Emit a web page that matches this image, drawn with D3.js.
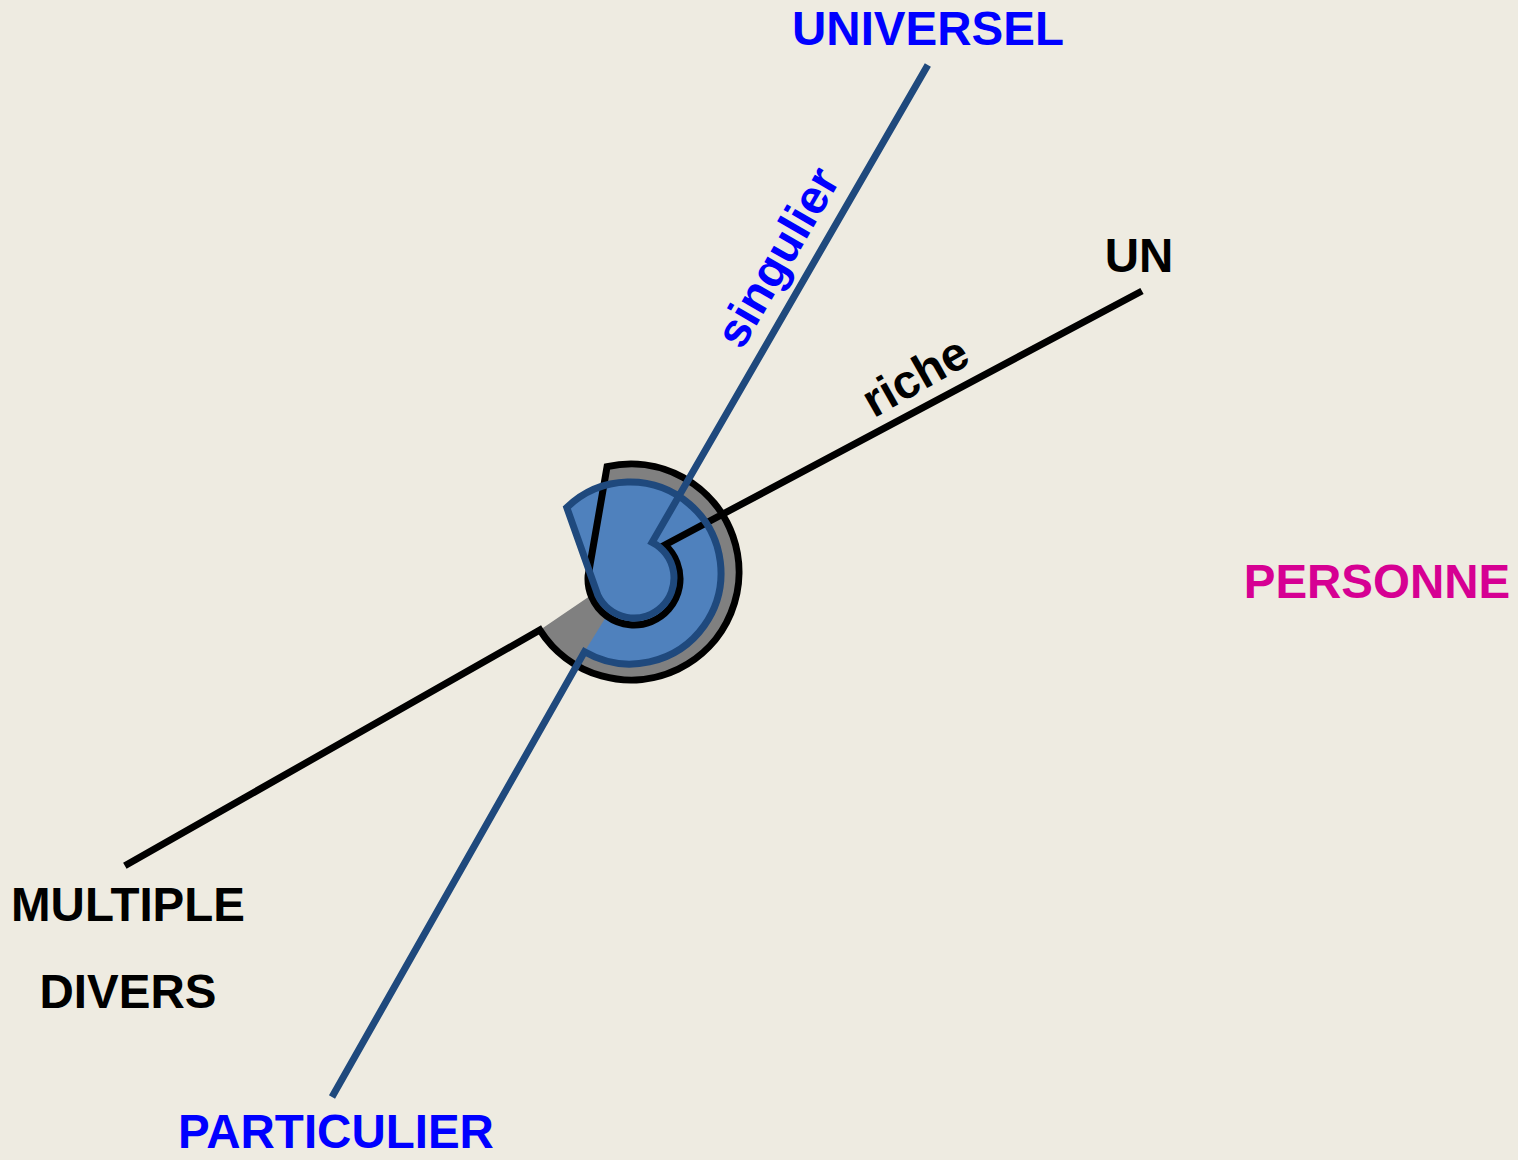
<!DOCTYPE html>
<html>
<head>
<meta charset="utf-8">
<script src="https://cdn.jsdelivr.net/npm/d3@7"></script>
<style>
  html, body { margin: 0; padding: 0; background: #eeebe1; }
  svg { display: block; }
  text { font-family: "Liberation Sans", Arial, sans-serif; font-weight: bold; }
</style>
</head>
<body>
<div id="chart"></div>
<script>
// two axes crossing at the centre, angle in degrees (counter-clockwise from east)
var axisNames = ["un-multiple", "universel-particulier"];
var axisAngles = [29.47, 60];
var axisReach = [[587.5, 580.8], [594.7, 597]]; // toward angle, toward angle+180

// spiral arcs: [startAngle, endAngle, radius]
var blackOuter = [212.5, 462.8, 108];
var blackInner = [176, 407.8, 46];
var blueOuter = [240, 494, 91];
var blueInner = [205, 423, 40];

// words on the poles
var poleLabels = ["UNIVERSEL", "UN", "PERSONNE", "MULTIPLE", "DIVERS", "PARTICULIER"];
var poleColors = ["#0000ff", "#000000", "#d60093", "#000000", "#000000", "#0000ff"];
var axisWords = ["singulier", "riche"];
var axisWordColors = ["#0000ff", "#000000"];

var width = 1518, height = 1160;
var centre = {x: 630.5, y: 580};

var svg = d3.select("#chart").append("svg")
    .attr("width", width)
    .attr("height", height);

var rad = function(d) { return d * Math.PI / 180; };
function pt(c, r, a) {
    return [c.x + r * Math.cos(rad(a)), c.y - r * Math.sin(rad(a))];
}
// arc going counter-clockwise on screen (increasing maths angle)
function addArc(p, c, a) {
    p.arc(c.x, c.y, a[2], -rad(a[0]), -rad(a[1]), true);
}

// outline: axis end -> outer arc -> inner arc -> other axis end
// fill: only the arcs, closed straight back
function spiral(axisIdx, outer, outerC, inner, innerC, forFill) {
    var p = d3.path();
    var a = axisAngles[axisIdx];
    var start = pt(centre, axisReach[axisIdx][1], a + 180);
    var end = pt(centre, axisReach[axisIdx][0], a);
    if (forFill) {
        var s = pt(outerC, outer[2], outer[0]);
        p.moveTo(s[0], s[1]);
    } else {
        p.moveTo(start[0], start[1]);
    }
    addArc(p, outerC, outer);
    addArc(p, innerC, inner);
    if (forFill) p.closePath();
    else p.lineTo(end[0], end[1]);
    return p.toString();
}

var bkO = {x: 631, y: 572}, bkI = {x: 634, y: 579};
var blO = {x: 630, y: 573}, blI = {x: 634, y: 578};

// fills first, then strokes (blue strokes sit on top)
svg.append("path").attr("d", spiral(0, blackOuter, bkO, blackInner, bkI, true))
    .attr("fill", "#808080").attr("stroke", "none");
svg.append("path").attr("d", spiral(1, blueOuter, blO, blueInner, blI, true))
    .attr("fill", "#4f81bd").attr("stroke", "none");
svg.append("path").attr("d", spiral(0, blackOuter, bkO, blackInner, bkI, false))
    .attr("fill", "none")
    .attr("stroke", "#000").attr("stroke-width", 7).attr("stroke-linejoin", "miter");
svg.append("path").attr("d", spiral(1, blueOuter, blO, blueInner, blI, false))
    .attr("fill", "none")
    .attr("stroke", "#1f497d").attr("stroke-width", 7).attr("stroke-linejoin", "miter");

var polePos = [[928, 45], [1139, 272], [1377, 598], [128, 921], [128, 1008], [336, 1148]];
svg.selectAll(".pole")
    .data(poleLabels)
    .enter().append("text")
    .attr("class", "pole")
    .attr("x", function(d, i) { return polePos[i][0]; })
    .attr("y", function(d, i) { return polePos[i][1]; })
    .attr("text-anchor", "middle")
    .style("font-size", "47.5px")
    .attr("fill", function(d, i) { return poleColors[i]; })
    .text(function(d) { return d; });

var wordPos = [[777, 257], [915, 376]];
svg.selectAll(".word")
    .data(axisWords)
    .enter().append("text")
    .attr("class", "word")
    .attr("transform", function(d, i) {
        return "translate(" + wordPos[i][0] + "," + wordPos[i][1] + ") rotate(" + (-axisAngles[1 - i]) + ")";
    })
    .attr("dy", "0.35em")
    .attr("text-anchor", "middle")
    .style("font-size", "47.5px")
    .attr("fill", function(d, i) { return axisWordColors[i]; })
    .text(function(d) { return d; });
</script>
</body>
</html>
